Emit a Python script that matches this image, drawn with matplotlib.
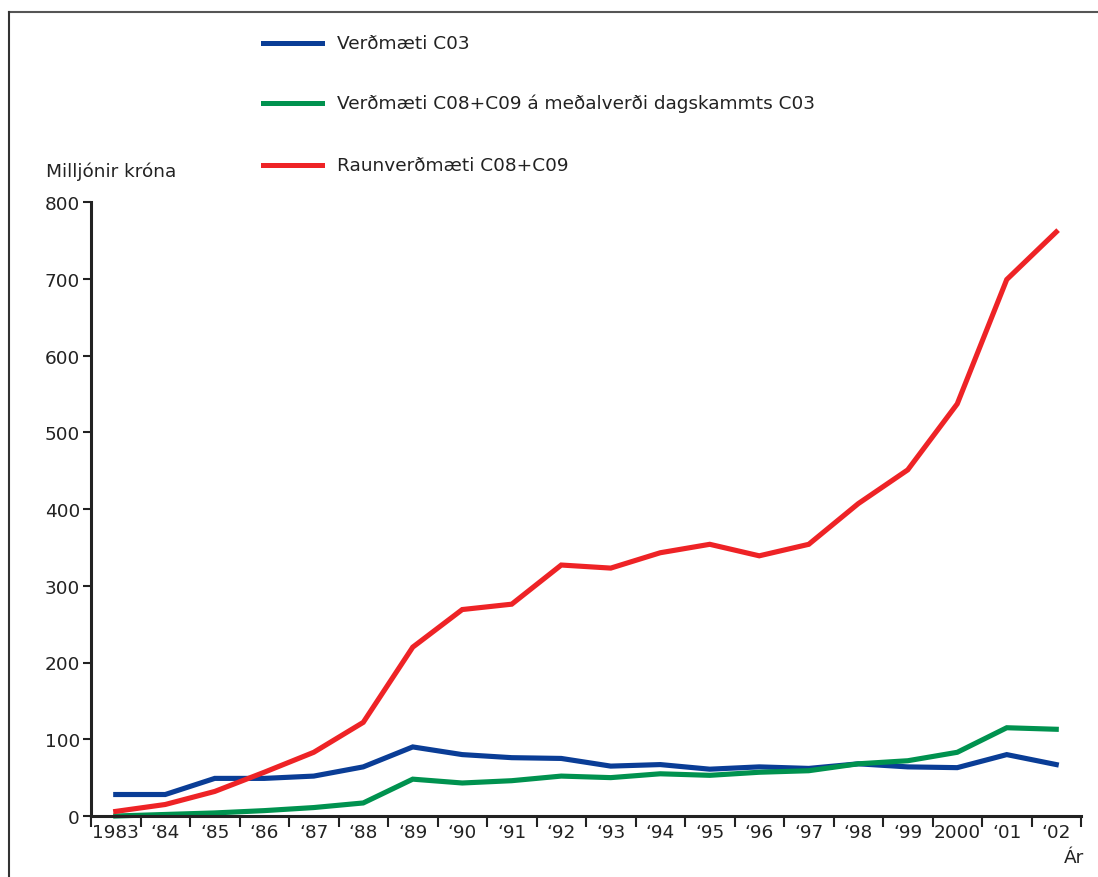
import matplotlib
matplotlib.use("Agg")
import matplotlib.pyplot as plt
from matplotlib.lines import Line2D
import numpy as np

plt.rcParams['font.family'] = ['DejaVu Sans']

years = ["1983", "\u201884", "\u201885", "\u201886", "\u201887", "\u201888", "\u201889", "\u201890",
         "\u201891", "\u201892", "\u201893", "\u201894", "\u201895", "\u201896", "\u201897", "\u201898",
         "\u201899", "2000", "\u201801", "\u201802"]
series_names = ["Verðmæti C03",
                "Verðmæti C08+C09 á meðalverði dagskammts C03",
                "Raunverðmæti C08+C09"]
blue_c03 = [28, 28, 49, 49, 52, 64, 90, 80, 76, 75, 65, 67, 61, 64, 62, 68, 64, 63, 80, 67]
green_c08c09 = [0, 2, 4, 7, 11, 17, 48, 43, 46, 52, 50, 55, 53, 57, 59, 68, 72, 83, 115, 113]
red_real = [6, 15, 32, 57, 83, 122, 220, 269, 276, 327, 323, 343, 354, 339, 354, 407, 451, 537, 699, 761]
yticks = [0, 100, 200, 300, 400, 500, 600, 700, 800]
colors = ["#0a3d96", "#00924f", "#ee2326"]

FS = 13.3
W, H = 1098, 878
fig = plt.figure(figsize=(W / 100, H / 100), dpi=100)
ax = fig.add_axes([91 / W, 1 - 817 / H, (1081 - 91) / W, (817 - 203) / H])

x = np.arange(len(years))
for vals, c, name in zip([blue_c03, green_c08c09, red_real], colors, series_names):
    ax.plot(x, vals, color=c, lw=3.7, solid_joinstyle='miter', label=name, clip_on=False)

ax.set_xlim(-0.5, len(years) - 0.5)
ax.set_ylim(0, 800)
ax.set_yticks(yticks)
ax.set_yticklabels([str(v) for v in yticks], fontsize=FS, color="#222222")
ax.set_xticks(x)
ax.set_xticklabels(years, fontsize=FS, color="#222222")
ax.set_xticks(np.arange(-0.5, len(years)), minor=True)
ax.tick_params(axis='x', which='major', length=0, pad=5)
ax.tick_params(axis='x', which='minor', length=8, width=1.5, color="#222222", direction='out')
ax.tick_params(axis='y', which='major', length=6, width=1.5, color="#222222", pad=2)
for s in ['top', 'right']:
    ax.spines[s].set_visible(False)
for s in ['left', 'bottom']:
    ax.spines[s].set_linewidth(2.2)
    ax.spines[s].set_color("#222222")

fig.text(46 / W, 1 - 172 / H, "Milljónir króna", fontsize=FS, color="#222222", va='center', ha='left')
fig.text(1084 / W, 1 - 858 / H, "Ár", fontsize=FS, color="#222222", va='center', ha='right')

# legend (manual)
leg_y = [44, 104, 166]
for yy, c, name in zip(leg_y, colors, series_names):
    fig.add_artist(Line2D([263 / W, 322 / W], [1 - yy / H, 1 - yy / H], color=c, lw=3.6,
                          transform=fig.transFigure))
    fig.text(337 / W, 1 - yy / H, name, fontsize=FS, color="#222222", va='center', ha='left')

# frame lines
fig.add_artist(Line2D([9 / W, 1.0], [1 - 13 / H, 1 - 13 / H], color="#555555", lw=1.5,
                      transform=fig.transFigure))
fig.add_artist(Line2D([9 / W, 9 / W], [1 - 13 / H, 0], color="#333333", lw=1.5,
                      transform=fig.transFigure))

fig.savefig("out.png", dpi=100)
